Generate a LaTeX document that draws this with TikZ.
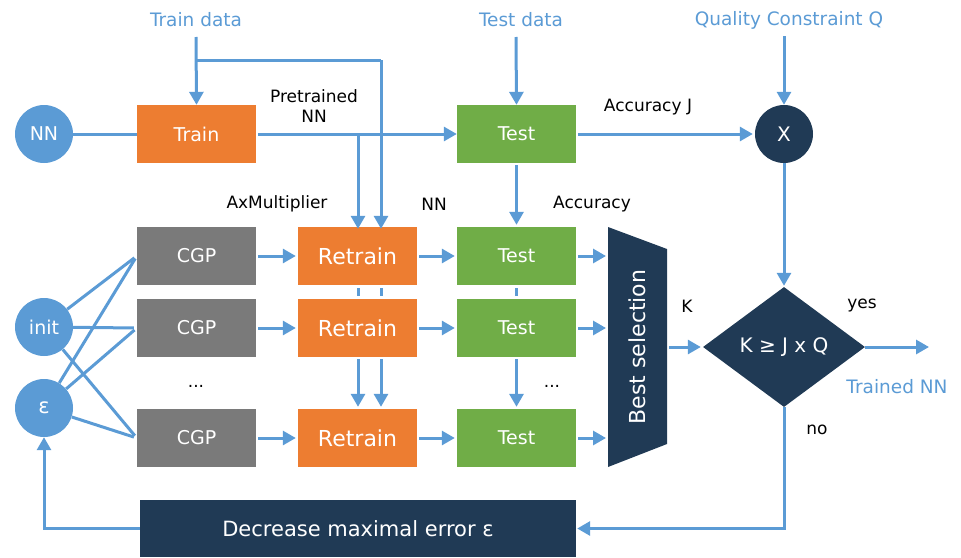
\documentclass[tikz,border=0pt]{standalone}
\usepackage{fontspec}
\setmainfont{DejaVu Sans}
\usetikzlibrary{arrows.meta,shapes.geometric,calc}
\definecolor{cblue}{HTML}{5B9BD5}
\definecolor{corange}{HTML}{ED7D31}
\definecolor{cgreen}{HTML}{70AD47}
\definecolor{cgray}{HTML}{7A7A7A}
\definecolor{cnavy}{HTML}{203A55}
\begin{document}
\begin{tikzpicture}[x=1pt,y=-1pt,
  box/.style={minimum width=119pt,minimum height=58pt,inner sep=0pt,text=white,
    font=\fontsize{19}{22}\selectfont},
  retrainbox/.style={box,fill=corange,font=\fontsize{22}{26}\selectfont},
  circ/.style={circle,minimum size=58pt,inner sep=0pt,text=white,
    font=\fontsize{19}{22}\selectfont},
  conn/.style={draw=cblue,line width=3pt},
  flow/.style={conn,-{Triangle[length=13pt,width=14pt]}},
  gap/.style={shorten >=2pt,shorten <=2pt},
  lbl/.style={font=\fontsize{17}{20}\selectfont,inner sep=0pt},
  inlbl/.style={text=cblue,font=\fontsize{18.5}{22}\selectfont,inner sep=0pt}]
\useasboundingbox (0,0) rectangle (961,557);

% inputs
\node[inlbl] (traindata) at (196,20) {Train data};
\node[inlbl] (testdata) at (521,20) {Test data};
\node[inlbl] (quality) at (789,20) {Quality Constraint Q};
\coordinate (tdin) at (196,37);
\coordinate (tsin) at (516,37);
\coordinate (qin) at (784,36);

% top row
\node[circ,fill=cblue] (nn) at (44,134) {NN};
\node[box,fill=corange] (train) at (196.5,134) {Train};
\node[box,fill=cgreen] (test0) at (516.5,134) {Test};
\node[circ,fill=cnavy,font=\fontsize{20}{24}\selectfont] (mul) at (784,134) {X};

% candidate rows
\foreach \r/\y in {1/256,2/328,3/438}{
  \node[box,fill=cgray] (cgp\r) at (196.5,\y) {CGP};
  \node[retrainbox] (ret\r) at (357.5,\y) {Retrain};
  \node[box,fill=cgreen] (test\r) at (516.5,\y) {Test};
}
\node[lbl] (dots1) at (196,386) {...};
\node[lbl] (dots2) at (552,386) {...};

\node[circ,fill=cblue] (init) at (44,327) {init};
\node[circ,fill=cblue,font=\fontsize{21}{24}\selectfont] (eps) at (44,408) {ε};

% best selection block
\coordinate (bsl) at (608,347);
\coordinate (bsr) at (667,347);
\fill[cnavy] (608,227) -- (667,249) -- (667,444) -- (608,467) -- cycle;
\node[rotate=90,text=white,font=\fontsize{22}{26}\selectfont] (best) at (637.5,347) {Best selection};

% decision
\node[diamond,fill=cnavy,minimum width=162pt,minimum height=120pt,inner sep=0pt,
  text=white,font=\fontsize{20}{24}\selectfont] (cmp) at (784,347) {K ≥ J x Q};
\coordinate (outend) at (929,347);

% feedback block
\node[fill=cnavy,minimum width=436pt,minimum height=57pt,inner sep=0pt,text=white,
  font=\fontsize{21}{25}\selectfont] (decr) at (358,528.5) {Decrease maximal error ε};

% labels
\node[lbl,align=center] (pretr) at (314,106) {Pretrained\\NN};
\node[lbl] (axm) at (277,204) {AxMultiplier};
\node[lbl] (nnl) at (434,204) {NN};
\node[lbl] (accj) at (648,107) {Accuracy J};
\node[lbl] (acc) at (592,204) {Accuracy};
\node[lbl] (kl) at (687,306) {K};
\node[lbl] (yes) at (862,306) {yes};
\node[lbl] (no) at (817,430) {no};
\node[inlbl] (trained) at (897,387) {Trained NN};

% helper columns
\coordinate (ca) at (358,0);
\coordinate (cb) at (381,0);
\coordinate (split) at (196,60);
\coordinate (bend) at (381,60);
\coordinate (tap) at (358,134);

% top connectors
\draw[flow] (tdin) -- (train.north);
\draw[conn] (split) -- (bend);
\draw[flow] (bend) -- ([yshift=-2pt]ret1.north -| cb);
\draw[conn] (nn) -- (train.west);
\draw[flow,shorten <=2pt] (train.east) -- (test0.west);
\draw[flow] (tap) -- ([yshift=-2pt]ret1.north -| ca);
\draw[flow] (tsin) -- (test0.north);
\draw[flow,gap] (test0.east) -- (mul.west);
\draw[flow] (qin) -- (mul.north);
\draw[flow,shorten <=0pt,shorten >=1pt] (mul.south) -- (cmp.north);
\draw[flow,gap] (test0.south) -- (test1.north);

% row connectors
\foreach \r in {1,2,3}{
  \draw[flow,gap] (cgp\r.east) -- (ret\r.west);
  \draw[flow,gap] (ret\r.east) -- (test\r.west);
  \draw[flow,gap] (test\r.east) -- (test\r.east -| bsl);
  \draw[conn,shorten >=3pt] (init) -- (cgp\r.west);
  \draw[conn,shorten >=3pt] (eps) -- (cgp\r.west);
}

% links between rows
\foreach \c in {ca,cb}{
  \draw[conn,shorten <=3pt,shorten >=3pt] (ret1.south -| \c) -- (ret2.north -| \c);
  \draw[flow,gap] (ret2.south -| \c) -- (ret3.north -| \c);
}
\draw[conn,shorten <=3pt,shorten >=3pt] (test1.south) -- (test2.north);
\draw[flow,gap] (test2.south) -- (test3.north);

% decision connectors
\draw[flow,gap] (bsr) -- (cmp.west);
\draw[flow] (cmp.east) -- (outend);
\draw[flow] (cmp.south) |- ([xshift=1pt]decr.east);
\draw[flow] (decr.west) -| (eps.south);
\end{tikzpicture}
\end{document}
